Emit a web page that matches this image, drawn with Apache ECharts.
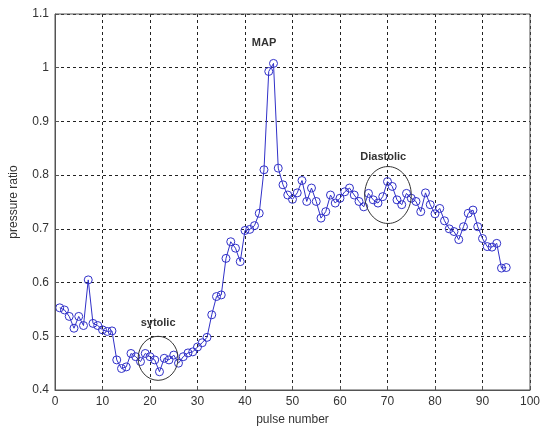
<!DOCTYPE html>
<html>
<head>
<meta charset="utf-8">
<script src="https://cdn.jsdelivr.net/npm/echarts@6/dist/echarts.min.js"></script>
<style>
  html, body { margin: 0; padding: 0; background: #fff; }
  #chart { width: 543px; height: 434px; }
</style>
</head>
<body>
<div id="chart"></div>
<script>
// pulse number vs pressure ratio

const pulses = [];
for (let i = 1; i <= 95; i++) pulses.push(i);

const pressureRatio = [
    0.553, 0.549, 0.537, 0.515, 0.537, 0.520, 0.605, 0.524, 0.520, 0.512,
    0.509, 0.510, 0.456, 0.440, 0.443, 0.468, 0.462, 0.453, 0.468, 0.462,
    0.456, 0.434, 0.459, 0.456, 0.465, 0.450, 0.462, 0.469, 0.471, 0.480,
    0.488, 0.498, 0.540, 0.574, 0.577, 0.645, 0.676, 0.664, 0.639, 0.697,
    0.699, 0.706, 0.729, 0.810, 0.993, 1.008, 0.813, 0.782, 0.763, 0.755,
    0.767, 0.790, 0.751, 0.776, 0.751, 0.720, 0.732, 0.763, 0.748, 0.757,
    0.769, 0.776, 0.763, 0.751, 0.741, 0.766, 0.754, 0.748, 0.760, 0.788,
    0.779, 0.754, 0.745, 0.766, 0.757, 0.751, 0.732, 0.767, 0.745, 0.728,
    0.738, 0.715, 0.700, 0.695, 0.680, 0.704, 0.729, 0.735, 0.704, 0.682,
    0.667, 0.666, 0.673, 0.627, 0.628
];

const xTicks = ['0', '10', '20', '30', '40', '50', '60', '70', '80', '90', '100'];
const yTicks = ['0.4', '0.5', '0.6', '0.7', '0.8', '0.9', '1', '1.1'];

// annotations in data units: [x, y]
const labelNames = ['MAP', 'sytolic', 'Diastolic'];
const labelPos = [[44, 1.046], [21.7, 0.525], [69.1, 0.834]];
// circles: [cx, cy, rx(units), ry(units)]
const circles = [[21.7, 0.459, 4.2, 0.041], [70.1, 0.763, 4.9, 0.053]];

const chartDom = document.getElementById('chart');
let chart = echarts.init(chartDom);

const axisTxt = { color: '#333', fontSize: 12, fontFamily: 'Liberation Sans' };

let option = {
    animation: false,
    grid: { left: 53, right: 12, top: 14, bottom: 44 },
    xAxis: {
        type: 'value',
        min: 0, max: 100, interval: 10,
        name: 'pulse number',
        nameLocation: 'middle',
        nameGap: 24,
        nameTextStyle: axisTxt,
        axisLine: { lineStyle: { color: '#555', width: 1 } },
        axisTick: { inside: true, length: 4, lineStyle: { color: '#555' } },
        axisLabel: Object.assign({
            margin: 6,
            formatter: function (v) { return xTicks[Math.round(v / 10)]; }
        }, axisTxt),
        splitLine: { show: true, lineStyle: { color: '#222', type: [3, 3], width: 1 } }
    },
    yAxis: {
        type: 'value',
        min: 0.4, max: 1.1, interval: 0.1,
        name: 'pressure ratio',
        nameLocation: 'middle',
        nameGap: 35,
        nameTextStyle: axisTxt,
        axisLine: { show: true, lineStyle: { color: '#555', width: 1 } },
        axisTick: { show: true, inside: true, length: 4, lineStyle: { color: '#555' } },
        axisLabel: Object.assign({
            margin: 6,
            formatter: function (v) { return yTicks[Math.round((v - 0.4) * 10)]; }
        }, axisTxt),
        splitLine: { show: true, lineStyle: { color: '#222', type: [3, 3], width: 1 } }
    },
    series: [
        {
            name: 'pressure ratio',
            type: 'line',
            data: pulses.map((p, i) => [p, pressureRatio[i]]),
            symbol: 'circle',
            symbolSize: 8,
            lineStyle: { color: '#3030c8', width: 1 },
            itemStyle: { color: 'rgba(0,0,0,0)', borderColor: '#3030c8', borderWidth: 1 },
            z: 3
        }
    ]
};

option && chart.setOption(option);

// frame + annotations placed via the chart's own scales
function addGraphics() {
    const g = [];
    const p0 = chart.convertToPixel({ gridIndex: 0 }, [0, 1.1]);
    const p1 = chart.convertToPixel({ gridIndex: 0 }, [100, 0.4]);
    g.push({
        type: 'rect', silent: true, z: 10,
        shape: { x: p0[0], y: p0[1], width: p1[0] - p0[0], height: p1[1] - p0[1] },
        style: { fill: null, stroke: '#555', lineWidth: 1 }
    });
    labelNames.forEach((t, i) => {
        const p = chart.convertToPixel({ gridIndex: 0 }, labelPos[i]);
        g.push({
            type: 'text', silent: true, z: 10, x: p[0], y: p[1],
            style: { text: t, fill: '#333', font: 'bold 11px "Liberation Sans"', align: 'center', verticalAlign: 'middle' }
        });
    });
    circles.forEach(c => {
        const pc = chart.convertToPixel({ gridIndex: 0 }, [c[0], c[1]]);
        const pe = chart.convertToPixel({ gridIndex: 0 }, [c[0] + c[2], c[1] + c[3]]);
        g.push({
            type: 'ellipse', silent: true, z: 10,
            shape: { cx: pc[0], cy: pc[1], rx: pe[0] - pc[0], ry: pc[1] - pe[1] },
            style: { fill: null, stroke: '#333', lineWidth: 1 }
        });
    });
    chart.setOption({ graphic: g });
}
addGraphics();
</script>
</body>
</html>
